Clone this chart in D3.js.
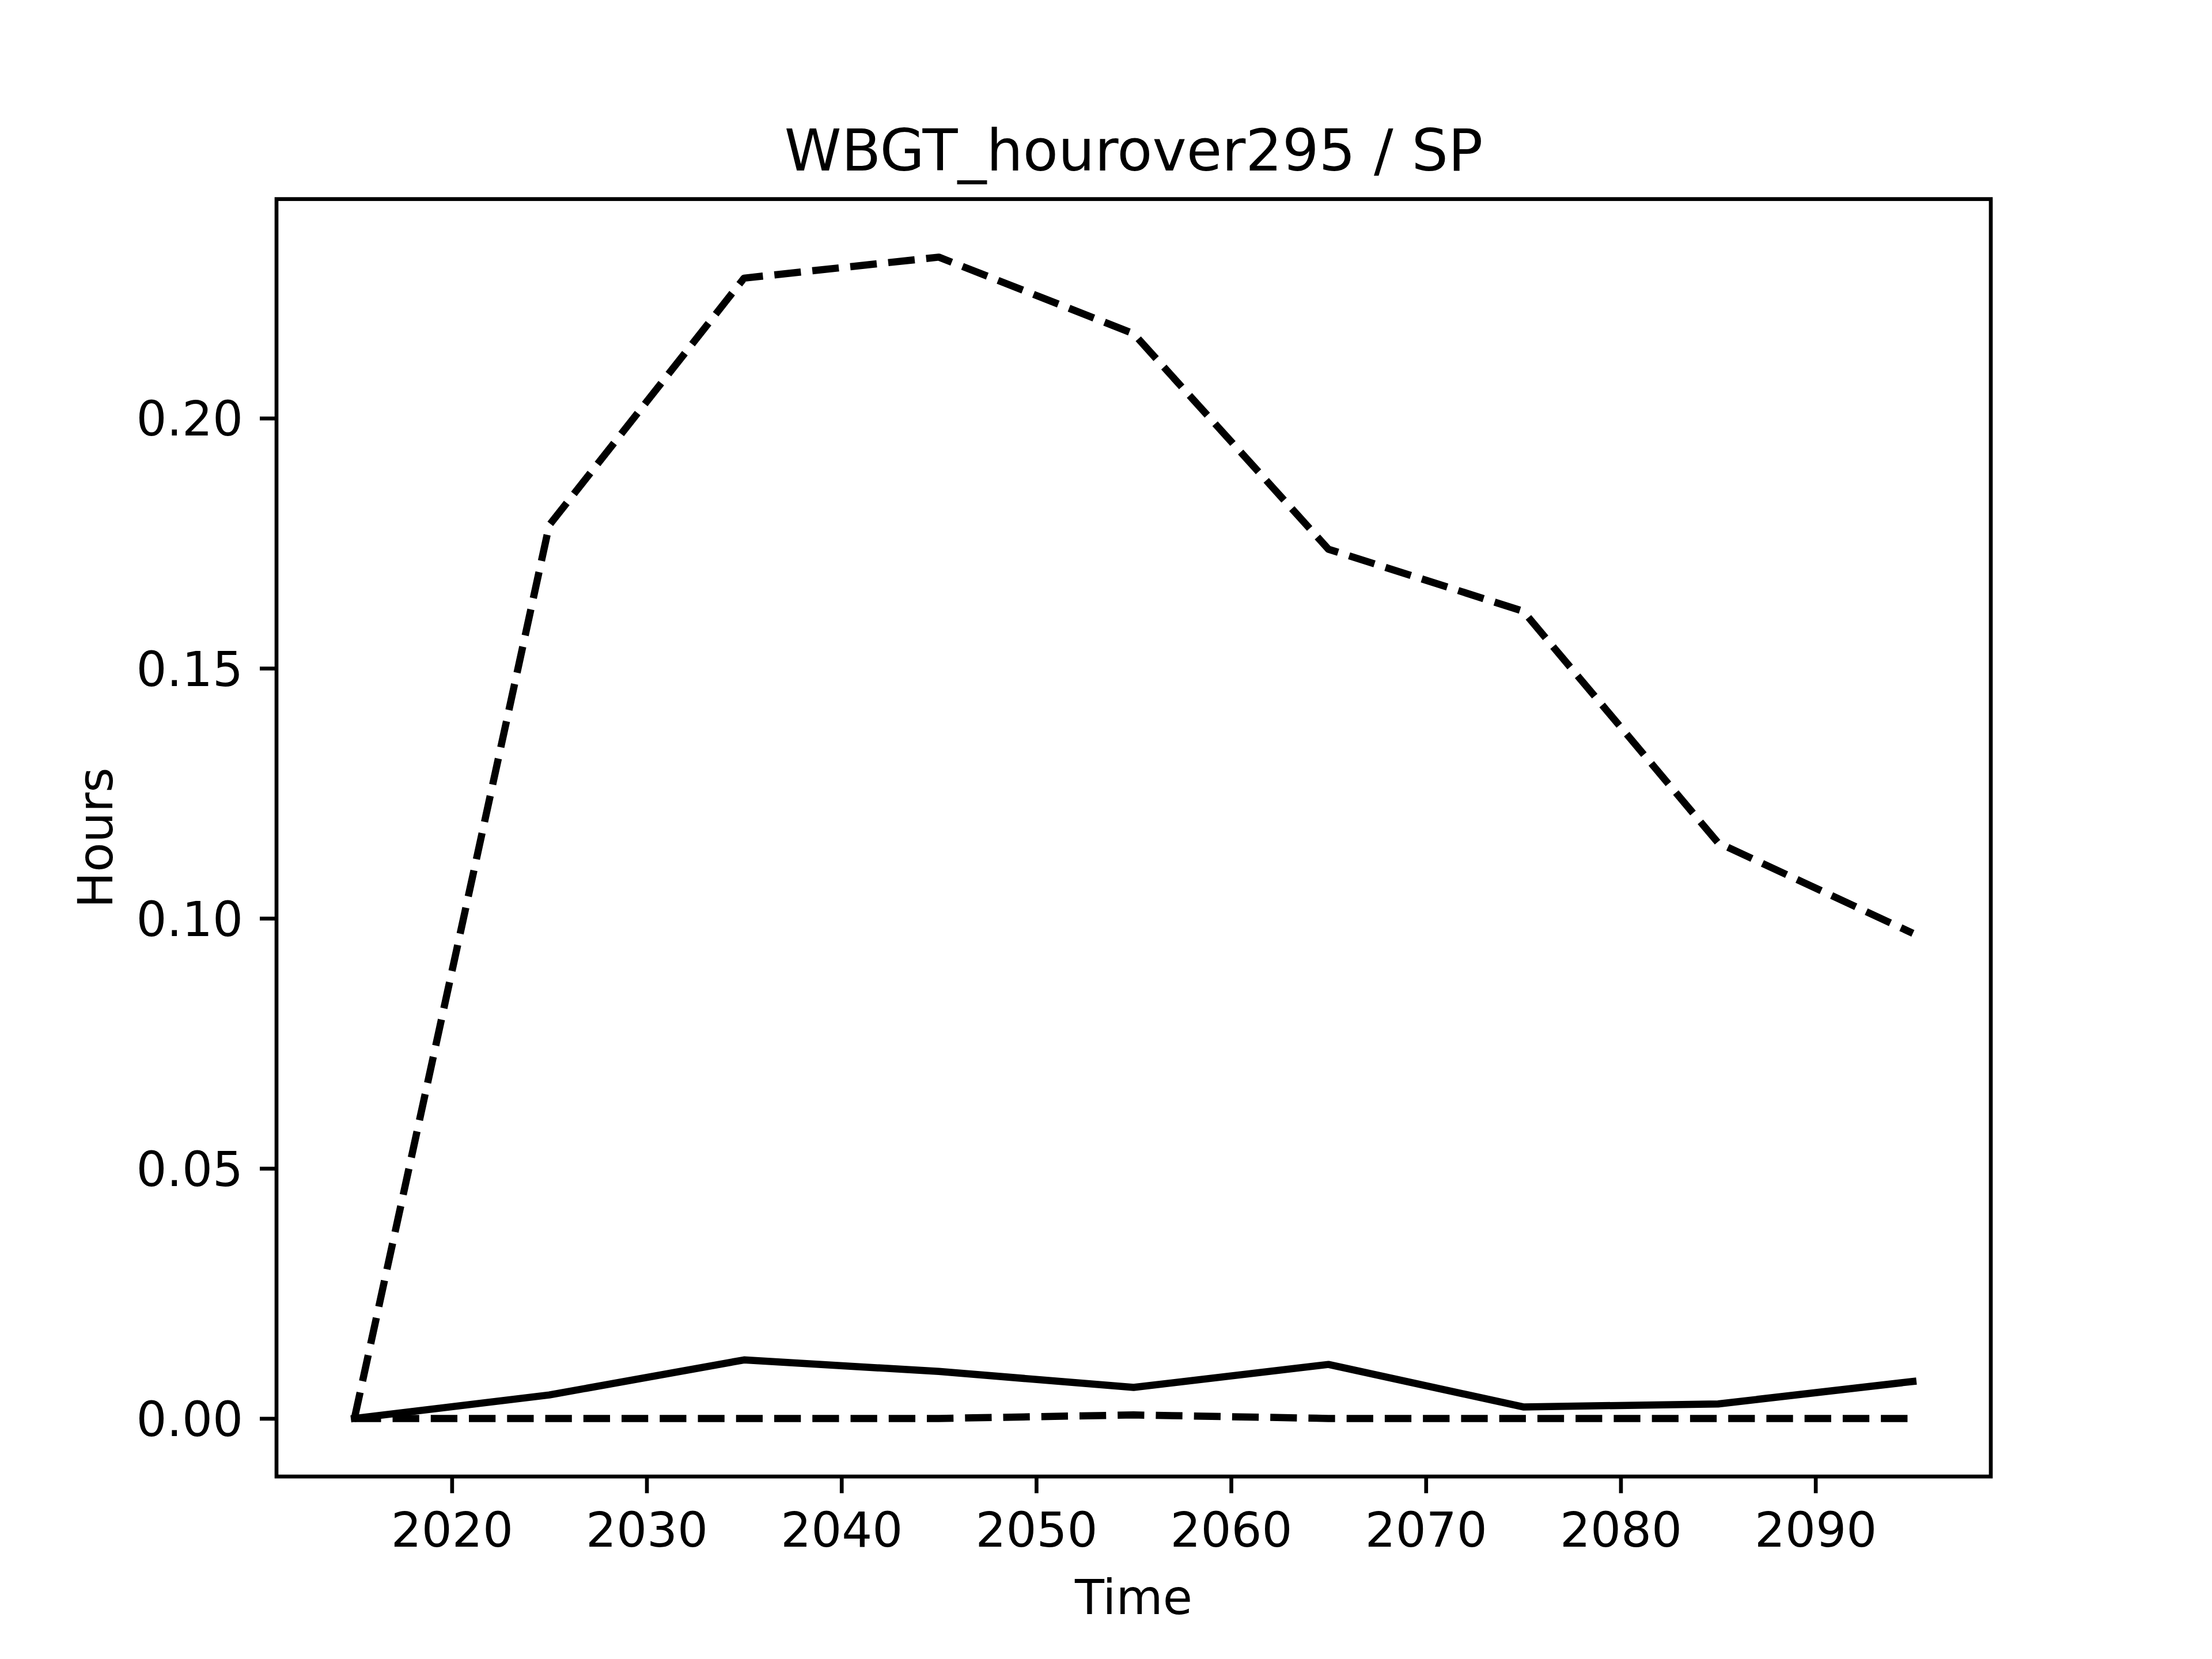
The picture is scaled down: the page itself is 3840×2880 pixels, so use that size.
<!DOCTYPE html>
<html><head><meta charset="utf-8">
<script src="https://cdn.jsdelivr.net/npm/d3@7"></script>
<style>body{margin:0;background:#fff}svg{display:block}</style>
</head><body>
<script>
const years = [2015, 2025, 2035, 2045, 2055, 2065, 2075, 2085, 2095];
const upperDashed = [0.0, 0.1786, 0.2280, 0.2322, 0.2169, 0.1738, 0.1614, 0.1151, 0.0970];
const solidMean = [0.0, 0.0047, 0.0117, 0.0094, 0.0062, 0.0108, 0.0023, 0.0029, 0.0074];
const lowerDashed = [0.0, 0.0, 0.0, 0.0, 0.0007, 0.0, 0.0, 0.0, 0.0];
const xTicks = [2020, 2030, 2040, 2050, 2060, 2070, 2080, 2090];
const yTicks = [0.00, 0.05, 0.10, 0.15, 0.20];
const titleText = "WBGT_hourover295 / SP";
const xLabel = "Time";
const yLabel = "Hours";

const W = 3840, H = 2880;
const L = 480, R = 3456, T = 345.6, B = 2563.2;
const fs = 83.33, lw = 12.5;
const svg = d3.select("body").append("svg").attr("width", W).attr("height", H)
  .style("font-family", "DejaVu Sans");
svg.append("rect").attr("width", W).attr("height", H).attr("fill", "#fff");

const allVals = upperDashed.concat(solidMean, lowerDashed);
const ymin = d3.min(allVals), ymax = d3.max(allVals);
const yr = ymax - ymin;
const x = d3.scaleLinear().domain([2015 - 4, 2095 + 4]).range([L, R]);
const y = d3.scaleLinear().domain([ymin - 0.05 * yr, ymax + 0.05 * yr]).range([B, T]);

svg.append("clipPath").attr("id", "clip").append("rect")
  .attr("x", L).attr("y", T).attr("width", R - L).attr("height", B - T);

const line = d3.line().x((d, i) => x(years[i])).y(d => y(d));
const g = svg.append("g").attr("clip-path", "url(#clip)");
[[upperDashed, "46.25,20"], [solidMean, null], [lowerDashed, "46.25,20"]].forEach(([s, dash]) => {
  const p = g.append("path").datum(s).attr("d", line).attr("fill", "none")
    .attr("stroke", "#000").attr("stroke-width", lw).attr("stroke-linejoin", "round")
    .attr("stroke-linecap", dash ? "butt" : "square");
  if (dash) p.attr("stroke-dasharray", dash);
});

// axes
const xAxis = d3.axisBottom(x).tickValues(xTicks).tickFormat(d3.format("d"))
  .tickSizeInner(29).tickSizeOuter(0).tickPadding(29);
const yAxis = d3.axisLeft(y).tickValues(yTicks).tickFormat(d3.format(".2f"))
  .tickSizeInner(29).tickSizeOuter(0).tickPadding(29);
const gx = svg.append("g").attr("transform", `translate(0,${B})`).call(xAxis);
const gy = svg.append("g").attr("transform", `translate(${L},0)`).call(yAxis);
[gx, gy].forEach(a => {
  a.select(".domain").remove();
  a.selectAll(".tick line").attr("stroke", "#000").attr("stroke-width", 6.67);
  a.selectAll(".tick text").attr("fill", "#000").style("font-size", fs + "px")
    .style("font-family", "DejaVu Sans");
});
gx.selectAll(".tick text").attr("dy", "0.76em");
gy.selectAll(".tick text").attr("dy", "0.36em");

svg.append("rect").attr("x", L).attr("y", T).attr("width", R - L).attr("height", B - T)
  .attr("fill", "none").attr("stroke", "#000").attr("stroke-width", 6.67);

svg.append("text").attr("x", (L + R) / 2).attr("y", T - 50).attr("text-anchor", "middle")
  .style("font-size", "100px").attr("fill", "#000").text(titleText);
svg.append("text").attr("x", (L + R) / 2).attr("y", 2802).attr("text-anchor", "middle")
  .style("font-size", fs + "px").attr("fill", "#000").text(xLabel);
svg.append("text").attr("transform", `translate(195,${(T + B) / 2}) rotate(-90)`)
  .attr("text-anchor", "middle").style("font-size", fs + "px").attr("fill", "#000").text(yLabel);
</script>
</body></html>
